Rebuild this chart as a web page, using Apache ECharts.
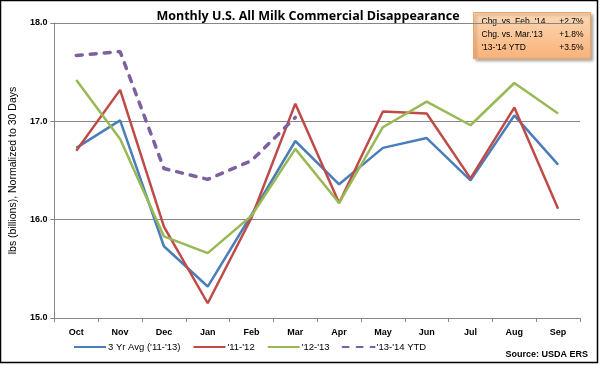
<!DOCTYPE html>
<html><head><meta charset="utf-8">
<script src="https://cdn.jsdelivr.net/npm/echarts@6/dist/echarts.min.js"></script>
<style>html,body{margin:0;padding:0;background:#fff}#c{width:600px;height:365px}</style>
</head><body><div id="c"></div>
<script>
const categories = ['Oct','Nov','Dec','Jan','Feb','Mar','Apr','May','Jun','Jul','Aug','Sep'];
const avg3yr = [16.73,17.01,15.73,15.32,16.05,16.80,16.36,16.73,16.83,16.40,17.06,16.56];
const s1112  = [16.70,17.32,15.93,15.15,16.02,17.18,16.17,17.10,17.08,16.42,17.14,16.11];
const s1213  = [17.42,16.82,15.83,15.66,16.04,16.72,16.17,16.94,17.20,16.96,17.39,17.08];
const s1314  = [17.67,17.71,16.52,16.41,16.60,17.04,null,null,null,null,null,null];
const seriesNames = ["3 Yr Avg ('11-'13)","'11-'12","'12-'13","'13-'14 YTD"];
const yTicks = [15,16,17,18];
const noteLabels = ["Chg. vs. Feb. '14","Chg. vs. Mar.'13","'13-'14 YTD"];
const noteValues = ["+2.7%","+1.8%","+3.5%"];

const FF = "'Liberation Sans', Arial, sans-serif";
const chart = echarts.init(document.getElementById('c'));
const lineS = (name, data, color, w, dashed) => ({
  name, type:'line', data, symbol:'none', smooth:false,
  lineStyle:{color, width:w, type: dashed ? [6,8] : 'solid', cap: dashed?'round':'butt'},
  itemStyle:{color}, z: dashed?5:3
});
chart.setOption({
  animation:false,
  textStyle:{fontFamily:FF},
  title:{text:'Monthly U.S. All Milk Commercial Disappearance', left:303, textAlign:'center', top:5,
    textStyle:{fontFamily:"'Open Sans', sans-serif", fontSize:12.5, fontWeight:'bold', color:'#000'}},
  grid:{left:48, right:20, top:23, bottom:47},
  xAxis:{type:'category', data:categories, boundaryGap:true,
    axisLine:{lineStyle:{color:'#868686', width:1}},
    axisTick:{show:true, length:4, lineStyle:{color:'#868686'}},
    axisLabel:{fontSize:9, fontWeight:'bold', color:'#000', margin:10, fontFamily:FF}},
  yAxis:{type:'value', min:yTicks[0], max:yTicks[yTicks.length-1], interval:1,
    name:'lbs (billions), Normalized to 30 Days', nameLocation:'middle', nameGap:33, nameRotate:90,
    nameTextStyle:{fontSize:10.5, color:'#000', fontFamily:FF},
    axisLine:{show:true, lineStyle:{color:'#868686'}},
    axisTick:{show:true, length:4, lineStyle:{color:'#868686'}},
    axisLabel:{fontSize:9, fontWeight:'bold', color:'#000', formatter:v=>v.toFixed(1), margin:7},
    splitLine:{lineStyle:{color:'#868686', width:1}}},
  legend:{bottom:8, left:68, itemWidth:32, itemHeight:12, itemGap:12,
    itemStyle:{opacity:0},
    textStyle:{fontSize:9.5, color:'#000', fontFamily:FF, padding:[0,0,0,-3]},
    data:seriesNames},
  series:[
    lineS(seriesNames[0], avg3yr, '#4A7EBB', 2.5),
    lineS(seriesNames[1], s1112, '#BE4B48', 2.5),
    lineS(seriesNames[2], s1213, '#98B954', 2.5),
    lineS(seriesNames[3], s1314, '#7D60A0', 3.5, true)
  ],
  graphic:[
    {type:'rect', shape:{x:0.5,y:0.5,width:597,height:362}, style:{fill:'none', stroke:'#000', lineWidth:1.5}, silent:true},
    {type:'group', left:473, top:12, children:[
      {type:'rect', shape:{x:0,y:0,width:117,height:46}, style:{
        fill:new echarts.graphic.LinearGradient(0,0,0,1,[{offset:0,color:'#FCD9B6'},{offset:1,color:'#F9B27A'}]),
        stroke:'#F2A45F', lineWidth:1, shadowBlur:3, shadowColor:'rgba(0,0,0,0.35)', shadowOffsetX:2, shadowOffsetY:2}},
      ...noteLabels.map((t,i)=>({type:'text', x:8, y:5+i*13, style:{text:t, fontSize:8.5, fill:'#000', fontFamily:FF}})),
      ...noteValues.map((t,i)=>({type:'text', x:110, y:5+i*13, style:{text:t, fontSize:8.5, fill:'#000', fontFamily:FF, align:'right'}}))
    ]},
    {type:'text', right:12, bottom:6, style:{text:'Source: USDA ERS', fontSize:9, fontWeight:'bold', fill:'#000', fontFamily:FF}}
  ]
});
</script></body></html>
